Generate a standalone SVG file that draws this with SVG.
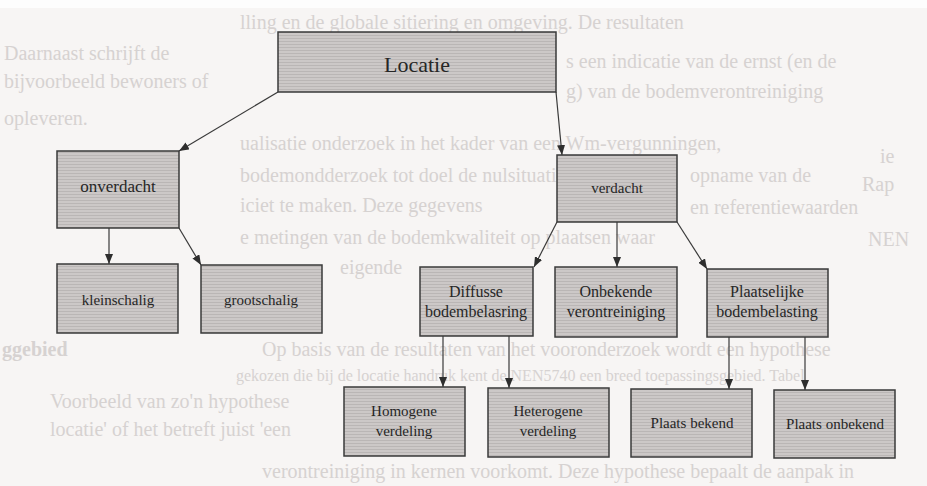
<svg xmlns="http://www.w3.org/2000/svg" width="927" height="486" viewBox="0 0 927 486">
<defs>
<pattern id="scan" width="4" height="3" patternUnits="userSpaceOnUse">
<rect width="4" height="3" fill="#ccc8c7"/>
<rect y="2" width="4" height="1" fill="#bab6b5"/>
</pattern>
<marker id="arr" markerWidth="10" markerHeight="8" refX="10" refY="4" orient="auto" markerUnits="userSpaceOnUse">
<path d="M0,0 L10,4 L0,8 z" fill="#2e2e2e"/>
</marker>
<style>
.box{fill:url(#scan);stroke:#3a3a3a;stroke-width:1.5}
.lbl{font-family:"Liberation Serif","Times New Roman",serif;fill:#262626;text-anchor:middle}
.ghost{font-family:"Liberation Serif","Times New Roman",serif;font-size:20px;fill:#d6d2d1}
.edge{stroke:#3a3a3a;stroke-width:1.2;fill:none;marker-end:url(#arr)}
</style>
</defs>
<rect width="927" height="486" fill="#f7f5f4"/>
<rect width="927" height="8" fill="#fdfdfd"/>
<g id="background-text">
<text class="ghost" x="240" y="29">lling en de globale sitiering en omgeving. De resultaten</text>
<text class="ghost" x="4" y="60">Daarnaast schrijft de</text>
<text class="ghost" x="566" y="68">s een indicatie van de ernst (en de</text>
<text class="ghost" x="4" y="88">bijvoorbeeld bewoners of</text>
<text class="ghost" x="566" y="98">g) van de bodemverontreiniging</text>
<text class="ghost" x="4" y="125">opleveren.</text>
<text class="ghost" x="240" y="150">ualisatie onderzoek in het kader van een Wm-vergunningen,</text>
<text class="ghost" x="880" y="163">ie</text>
<text class="ghost" x="240" y="182">bodemondderzoek tot doel de nulsituatie</text>
<text class="ghost" x="690" y="182">opname van de</text>
<text class="ghost" x="862" y="191">Rap</text>
<text class="ghost" x="240" y="212">iciet te maken. Deze gegevens</text>
<text class="ghost" x="690" y="214">en referentiewaarden</text>
<text class="ghost" x="240" y="244">e metingen van de bodemkwaliteit op plaatsen waar</text>
<text class="ghost" x="868" y="246">NEN</text>
<text class="ghost" x="340" y="274">eigende</text>
<text class="ghost" x="262" y="356">Op basis van de resultaten van het vooronderzoek wordt een hypothese</text>
<text class="ghost" x="2" y="356" style="font-weight:bold">ggebied</text>
<text class="ghost" x="236" y="381" style="font-size:16px">gekozen die bij de locatie handruk kent de NEN5740 een breed toepassingsgebied. Tabel</text>
<text class="ghost" x="50" y="408">Voorbeeld van zo'n hypothese</text>
<text class="ghost" x="50" y="436">locatie' of het betreft juist 'een</text>
<text class="ghost" x="262" y="478">verontreiniging in kernen voorkomt. Deze hypothese bepaalt de aanpak in</text>
</g>
<g id="connectors">
<line class="edge" x1="278" y1="92" x2="179" y2="151"/>
<line class="edge" x1="556" y1="92" x2="562" y2="155"/>
<line class="edge" x1="109" y1="228" x2="109" y2="264"/>
<line class="edge" x1="179" y1="228" x2="201" y2="265"/>
<line class="edge" x1="557" y1="222" x2="534" y2="267"/>
<line class="edge" x1="617" y1="222" x2="617" y2="267"/>
<line class="edge" x1="677" y1="222" x2="707" y2="269"/>
<line class="edge" x1="443" y1="336" x2="443" y2="387"/>
<line class="edge" x1="509" y1="336" x2="509" y2="388"/>
<line class="edge" x1="729" y1="337" x2="729" y2="389"/>
<line class="edge" x1="805" y1="337" x2="805" y2="390"/>
</g>
<g id="locatie">
<rect class="box" x="278" y="32" width="278" height="60"/>
<text class="lbl" x="417" y="72" font-size="22">Locatie</text>
</g>
<g id="onverdacht">
<rect class="box" x="57" y="151" width="122" height="77"/>
<text class="lbl" x="118" y="192" font-size="17">onverdacht</text>
</g>
<g id="verdacht">
<rect class="box" x="557" y="155" width="120" height="67"/>
<text class="lbl" x="617" y="193" font-size="15">verdacht</text>
</g>
<g id="kleinschalig">
<rect class="box" x="57" y="264" width="121" height="69"/>
<text class="lbl" x="118" y="305" font-size="15">kleinschalig</text>
</g>
<g id="grootschalig">
<rect class="box" x="201" y="265" width="121" height="68"/>
<text class="lbl" x="261" y="305" font-size="15">grootschalig</text>
</g>
<g id="diffusse">
<rect class="box" x="420" y="267" width="113" height="69"/>
<text class="lbl" x="476" y="297" font-size="16">Diffusse</text>
<text class="lbl" x="476" y="317" font-size="16">bodembelasring</text>
</g>
<g id="onbekende">
<rect class="box" x="555" y="267" width="122" height="70"/>
<text class="lbl" x="616" y="297" font-size="16">Onbekende</text>
<text class="lbl" x="616" y="317" font-size="16">verontreiniging</text>
</g>
<g id="plaatselijke">
<rect class="box" x="707" y="269" width="121" height="68"/>
<text class="lbl" x="767" y="297" font-size="16">Plaatselijke</text>
<text class="lbl" x="767" y="317" font-size="16">bodembelasting</text>
</g>
<g id="homogene">
<rect class="box" x="344" y="387" width="121" height="69"/>
<text class="lbl" x="404" y="416" font-size="15">Homogene</text>
<text class="lbl" x="404" y="436" font-size="15">verdeling</text>
</g>
<g id="heterogene">
<rect class="box" x="488" y="388" width="121" height="69"/>
<text class="lbl" x="548" y="416" font-size="15">Heterogene</text>
<text class="lbl" x="548" y="436" font-size="15">verdeling</text>
</g>
<g id="plaats-bekend">
<rect class="box" x="631" y="389" width="121" height="68"/>
<text class="lbl" x="692" y="428" font-size="15">Plaats bekend</text>
</g>
<g id="plaats-onbekend">
<rect class="box" x="774" y="390" width="121" height="68"/>
<text class="lbl" x="835" y="429" font-size="15">Plaats onbekend</text>
</g>
</svg>
